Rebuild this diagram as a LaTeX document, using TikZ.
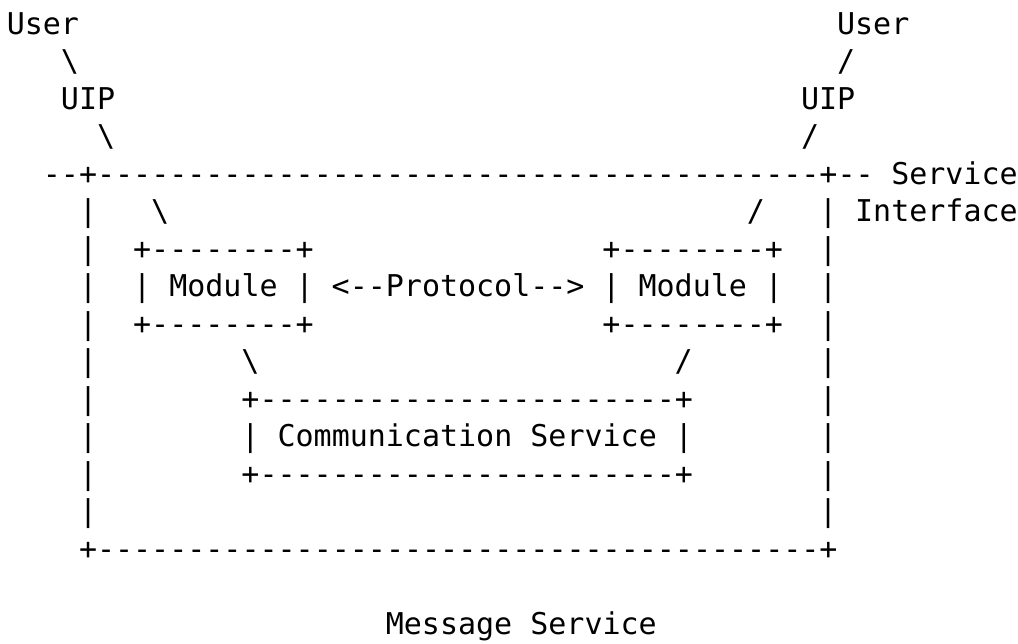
\documentclass[tikz,border=0pt]{standalone}
\usepackage{fontspec}
\setmonofont[Ligatures=NoCommon]{DejaVu Sans Mono}
\newcommand\asciifont{\ttfamily\fontsize{30pt}{37.5pt}\selectfont}
\newcommand\bs{\textbackslash}
\newcommand\place[4]{\node[ascii] (#1) at ({6.8+#2*18.05},{-34-(#3-1)*37.5}) {#4};}
\tikzset{ascii/.style={anchor=base west, inner sep=0pt, outer sep=0pt, font=\asciifont, text=black}}
\begin{document}
\begin{tikzpicture}[x=1pt,y=1pt]
\fill[white] (0,0) rectangle (1018,-643);
\useasboundingbox (0,0) rectangle (1018,-643);
% row 1
\place{userL}{0}{1}{User}
\place{userR}{46}{1}{User}
% row 2
\place{slashA}{3}{2}{\bs}
\place{slashB}{46}{2}{/}
% row 3
\place{uipL}{3}{3}{UIP}
\place{uipR}{44}{3}{UIP}
% row 4
\place{slashC}{5}{4}{\bs}
\place{slashD}{44}{4}{/}
% row 5
\place{topline}{2}{5}{--+----------------------------------------+--}
\place{service}{49}{5}{Service}
% row 6
\place{r6l}{4}{6}{|}
\place{slashE}{8}{6}{\bs}
\place{slashF}{41}{6}{/}
\place{r6r}{45}{6}{|}
\place{interface}{47}{6}{Interface}
% row 7
\place{r7l}{4}{7}{|}
\place{modAtop}{7}{7}{+--------+}
\place{modBtop}{33}{7}{+--------+}
\place{r7r}{45}{7}{|}
% row 8
\place{r8l}{4}{8}{|}
\place{modA}{7}{8}{|~Module~|}
\place{protocol}{18}{8}{<--Protocol-->}
\place{modB}{33}{8}{|~Module~|}
\place{r8r}{45}{8}{|}
% row 9
\place{r9l}{4}{9}{|}
\place{modAbot}{7}{9}{+--------+}
\place{modBbot}{33}{9}{+--------+}
\place{r9r}{45}{9}{|}
% row 10
\place{r10l}{4}{10}{|}
\place{slashG}{13}{10}{\bs}
\place{slashH}{37}{10}{/}
\place{r10r}{45}{10}{|}
% row 11
\place{r11l}{4}{11}{|}
\place{commtop}{13}{11}{+-----------------------+}
\place{r11r}{45}{11}{|}
% row 12
\place{r12l}{4}{12}{|}
\place{comm}{13}{12}{|~Communication~Service~|}
\place{r12r}{45}{12}{|}
% row 13
\place{r13l}{4}{13}{|}
\place{commbot}{13}{13}{+-----------------------+}
\place{r13r}{45}{13}{|}
% row 14
\place{r14l}{4}{14}{|}
\place{r14r}{45}{14}{|}
% row 15
\place{bottomline}{4}{15}{+----------------------------------------+}
% row 17
\place{message}{21}{17}{Message~Service}
\end{tikzpicture}
\end{document}
